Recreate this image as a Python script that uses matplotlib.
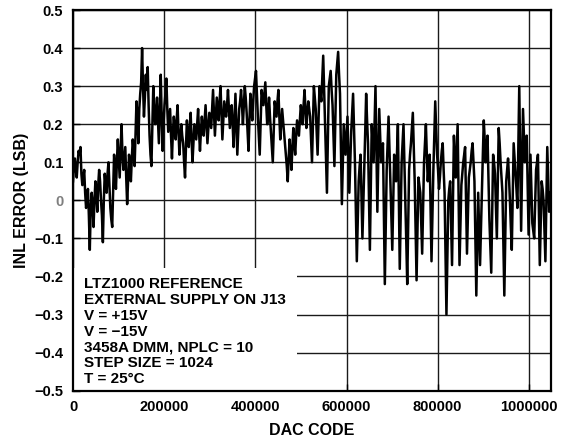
import numpy as np
import matplotlib
matplotlib.use("Agg")
import matplotlib.pyplot as plt
from matplotlib.patches import Rectangle

plt.rcParams['font.family'] = ['Liberation Sans', 'DejaVu Sans']
plt.rcParams['font.weight'] = 'bold'

# ---- data ----
CODE_STEP = 2048
# readings at even sample positions
INL_EVEN = [
    0.05, 0.11, 0.06, 0.13, 0.14, 0.04, 0.08, -0.02, 0.03, -0.13, 0.02, -0.07, 0.05,
    -0.03, 0.08, 0.00, -0.11, 0.07, 0.02, 0.10, -0.02, -0.07, 0.12, 0.03, 0.16, 0.06,
    0.20, 0.08, 0.14, -0.01, 0.12, 0.05, 0.16, 0.09, 0.26, 0.15, 0.28, 0.40, 0.22,
    0.33, 0.35, 0.17, 0.09, 0.30, 0.20, 0.27, 0.15, 0.33, 0.13, 0.25, 0.32, 0.18,
    0.24, 0.11, 0.22, 0.16, 0.25, 0.12, 0.20, 0.15, 0.06, 0.21, 0.14, 0.23, 0.10,
    0.20, 0.16, 0.24, 0.13,
    0.22, 0.17, 0.25, 0.15, 0.23, 0.19, 0.29, 0.17, 0.27, 0.21, 0.30, 0.16, 0.26,
    0.22, 0.29, 0.19, 0.25, 0.14, 0.28, 0.12, 0.24, 0.29, 0.20, 0.30, 0.23, 0.13, 0.28,
    0.21, 0.30, 0.34, 0.22, 0.12, 0.29, 0.25, 0.31, 0.20, 0.27, 0.18, 0.10, 0.26,
    0.22, 0.29, 0.16, 0.24, 0.18, 0.12, 0.05, 0.16, 0.08, 0.19, 0.12, 0.21,
    0.17, 0.25, 0.20, 0.29, 0.19, 0.26, 0.22, 0.10, 0.30, 0.24, 0.12, 0.30, 0.26,
    0.38, 0.20, 0.02, 0.30, 0.34, 0.25, 0.09, 0.33, 0.39, 0.28, -0.01, 0.20,
    0.12, 0.22, 0.02, 0.18, 0.28, 0.10, -0.16, 0.05, 0.12, -0.10, 0.08, 0.28, 0.15,
    -0.13, 0.20, 0.10, 0.30, -0.03, 0.24, 0.10, 0.15, -0.22, 0.08, 0.22, 0.04, -0.13, 0.12,
    0.05, 0.20, -0.18, 0.10, 0.20, 0.00, -0.22, 0.08, 0.15, 0.23, 0.05, -0.21, 0.06,
    0.02, -0.14, 0.10, 0.20, 0.05, 0.12, -0.16, 0.08, 0.26, 0.12, 0.03, 0.10, 0.15,
    0.02, -0.30, 0.00, 0.05, -0.17, 0.17, 0.06, 0.20, -0.17, 0.04, 0.10, 0.14, -0.14,
    0.06, 0.10, 0.15,
    0.05, -0.25, 0.02, -0.17, 0.03, 0.21, 0.10, 0.17, -0.05, -0.19, 0.12, 0.07, -0.10,
    0.19, 0.10, 0.02, -0.25, 0.05, 0.11, 0.00, -0.13, 0.15, 0.07, -0.02, 0.30, -0.08,
    0.24, 0.10, 0.17, -0.09, 0.12, -0.06, -0.10, 0.08, 0.12, -0.17, 0.05, 0.00, -0.16,
    0.14, -0.03,
]
# readings at odd sample positions
INL_ODD = [
    0.09, 0.08, 0.10, 0.12, 0.07, 0.06, 0.02, 0.00, -0.04, -0.02, -0.01, 0.00, 0.02,
    0.04, 0.05, -0.04, 0.00, 0.04, 0.07, 0.04, -0.05, 0.03, 0.08, 0.10, 0.11, 0.13,
    0.12, 0.11, 0.06, 0.05, 0.09, 0.11, 0.13, 0.18, 0.22, 0.24, 0.31, 0.30, 0.27,
    0.29, 0.25, 0.12, 0.20, 0.24, 0.23, 0.21, 0.24, 0.22, 0.20, 0.28, 0.24, 0.21,
    0.17, 0.18, 0.19, 0.21, 0.18, 0.16, 0.17, 0.10, 0.14, 0.17, 0.19, 0.16, 0.15,
    0.18, 0.20, 0.18, 0.18,
    0.19, 0.21, 0.20, 0.19, 0.21, 0.24, 0.23, 0.22, 0.24, 0.26, 0.23, 0.21, 0.24,
    0.25, 0.24, 0.22, 0.20, 0.21, 0.20, 0.18, 0.26, 0.25, 0.25, 0.27, 0.18, 0.21, 0.25,
    0.26, 0.32, 0.28, 0.17, 0.21, 0.27, 0.28, 0.25, 0.23, 0.22, 0.14, 0.18, 0.24,
    0.26, 0.22, 0.20, 0.21, 0.15, 0.09, 0.11, 0.12, 0.14, 0.15, 0.17, 0.19,
    0.21, 0.23, 0.25, 0.24, 0.23, 0.24, 0.16, 0.20, 0.27, 0.18, 0.21, 0.28, 0.32,
    0.29, 0.11, 0.16, 0.32, 0.29, 0.17, 0.21, 0.36, 0.33, 0.14, 0.10, 0.16,
    0.17, 0.12, 0.10, 0.23, 0.19, -0.03, -0.05, 0.09, 0.01, -0.01, 0.18, 0.21, 0.01,
    0.03, 0.15, 0.20, 0.13, 0.10, 0.17, 0.12, -0.04, -0.07, 0.15, 0.13, -0.05, -0.01, 0.08,
    0.12, 0.01, -0.04, 0.15, 0.10, -0.11, -0.07, 0.12, 0.19, 0.14, -0.08, -0.07, 0.04,
    -0.06, -0.02, 0.15, 0.12, 0.09, -0.02, -0.04, 0.17, 0.19, 0.08, 0.06, 0.13, 0.08,
    -0.14, -0.15, 0.03, -0.06, 0.00, 0.11, 0.13, 0.02, -0.07, 0.07, 0.12, 0.00, -0.04,
    0.08, 0.13, 0.10,
    -0.10, -0.11, -0.07, -0.07, 0.12, 0.16, 0.14, 0.06, -0.12, -0.04, 0.10, -0.02, 0.05,
    0.15, 0.06, -0.12, -0.10, 0.08, 0.06, -0.07, 0.01, 0.11, 0.03, 0.14, 0.11, 0.08,
    0.17, 0.14, 0.04, 0.02, 0.03, -0.08, -0.01, 0.10, -0.02, -0.06, 0.03, -0.08, -0.01,
    0.05, 0.02,
]
INL_ERROR = np.empty(len(INL_EVEN) + len(INL_ODD))
INL_ERROR[0::2] = INL_EVEN
INL_ERROR[1::2] = INL_ODD
DAC_CODE = np.arange(len(INL_ERROR)) * CODE_STEP

X_TICKS = [0, 200000, 400000, 600000, 800000, 1000000]
X_TICK_LABELS = ['0', '200000', '400000', '600000', '800000', '1000000']
Y_TICKS = [-0.5, -0.4, -0.3, -0.2, -0.1, 0.0, 0.1, 0.2, 0.3, 0.4, 0.5]
Y_TICK_LABELS = ['\u22120.5', '\u22120.4', '\u22120.3', '\u22120.2', '\u22120.1', '0',
                 '0.1', '0.2', '0.3', '0.4', '0.5']
NOTE_LINES = ['LTZ1000 REFERENCE', 'EXTERNAL SUPPLY ON J13', 'V = +15V',
              'V = \u221215V', '3458A DMM, NPLC = 10', 'STEP SIZE = 1024',
              'T = 25\u00b0C']

# ---- figure ----
W, H = 563, 440
fig = plt.figure(figsize=(W / 100, H / 100), dpi=100)
ax_l, ax_r, ax_t, ax_b = 73, 551, 10, 390.7
ax = fig.add_axes([ax_l / W, 1 - ax_b / H, (ax_r - ax_l) / W, (ax_b - ax_t) / H])

ax.plot(DAC_CODE, INL_ERROR, color='black', lw=1.8, zorder=3)

ax.set_xlim(0, 1048576)
ax.set_ylim(-0.5, 0.5)
ax.set_xticks(X_TICKS)
ax.set_xticklabels(X_TICK_LABELS)
ax.set_yticks(Y_TICKS)
ax.set_yticklabels(Y_TICK_LABELS)
for lbl, val in zip(ax.get_yticklabels(), Y_TICKS):
    if val == 0:
        lbl.set_color('#7f7f7f')

ax.set_axisbelow(True)
ax.grid(True, color='#1a1a1a', lw=1.0)
ax.tick_params(direction='in', length=5, width=1.0, labelsize=10.5, pad=7)
for sp in ax.spines.values():
    sp.set_linewidth(1.6)
    sp.set_zorder(4)

ax.set_xlabel('DAC CODE', fontsize=11.5, fontweight='bold', labelpad=6)
ax.set_ylabel('INL ERROR (LSB)', fontsize=11.5, fontweight='bold', labelpad=4)

# white note box hiding the grid
box_w = (297 - ax_l) / (ax_r - ax_l)
box_h = (ax_b - 268) / (ax_b - ax_t)
ax.add_patch(Rectangle((0, 0), box_w, box_h, transform=ax.transAxes,
                       facecolor='white', edgecolor='none', zorder=2))

x0 = (84.3 - ax_l) / (ax_r - ax_l)
for i, line in enumerate(NOTE_LINES):
    yb = 288.3 + i * 15.75
    ax.text(x0, (ax_b - yb) / (ax_b - ax_t), line, transform=ax.transAxes,
            fontsize=11, fontweight='bold', va='baseline', ha='left', zorder=5)

fig.savefig('out.png', dpi=100)
